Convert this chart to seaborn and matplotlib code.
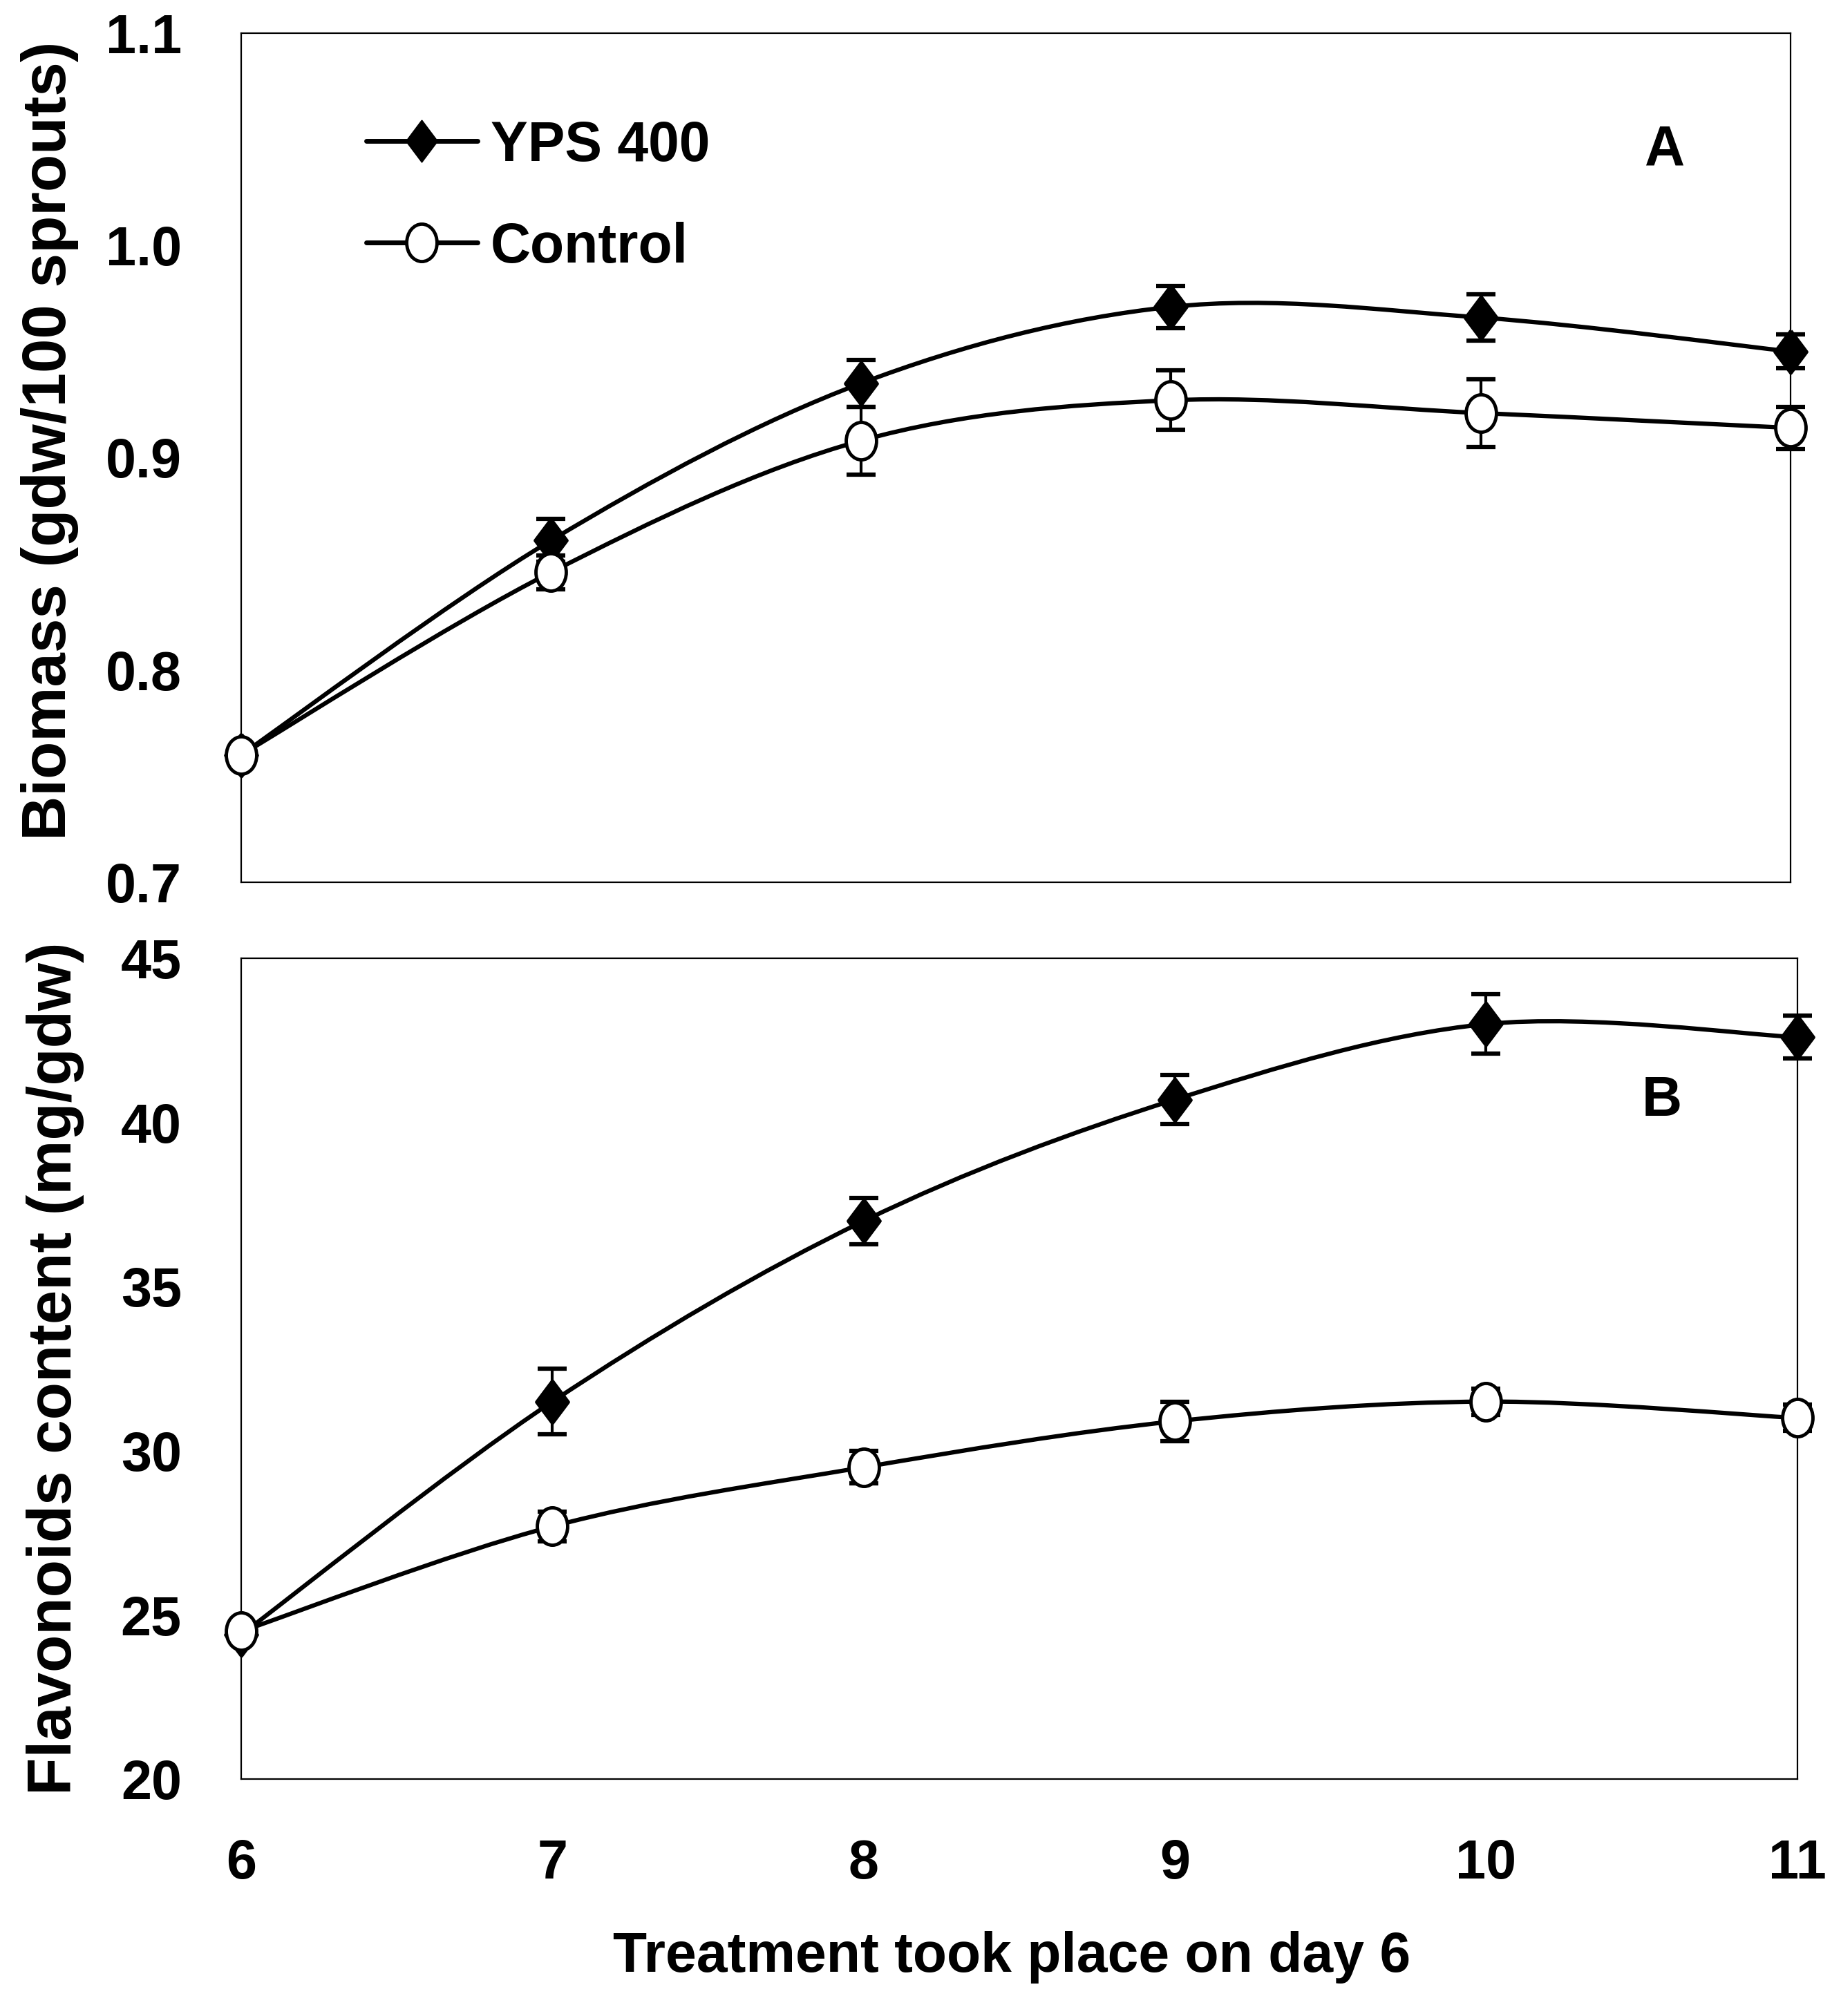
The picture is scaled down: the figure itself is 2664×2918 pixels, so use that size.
import numpy as np
import pandas as pd
import seaborn as sns
import matplotlib.pyplot as plt
from matplotlib.path import Path
from matplotlib.patches import PathPatch
from matplotlib.lines import Line2D

# values
days = [6, 7, 8, 9, 10, 11]

biomass_yps = [0.760, 0.861, 0.935, 0.971, 0.966, 0.950]
biomass_yps_err = [0.0, 0.010, 0.011, 0.010, 0.011, 0.008]
biomass_ctrl = [0.760, 0.846, 0.908, 0.927, 0.921, 0.914]
biomass_ctrl_err = [0.0, 0.008, 0.016, 0.014, 0.016, 0.010]

flav_yps = [24.4, 31.5, 37.0, 40.7, 43.0, 42.6]
flav_yps_err = [0.0, 1.0, 0.7, 0.75, 0.9, 0.65]
flav_ctrl = [24.5, 27.7, 29.5, 30.9, 31.5, 31.0]
flav_ctrl_err = [0.0, 0.45, 0.5, 0.6, 0.4, 0.4]

series_names = ["YPS 400", "Control"]

sns.set_style("white")
plt.rcParams["font.family"] = ["Liberation Sans", "DejaVu Sans"]
plt.rcParams["font.weight"] = "bold"
plt.rcParams["text.color"] = "black"
plt.rcParams["axes.labelcolor"] = "black"
plt.rcParams["xtick.color"] = "black"
plt.rcParams["ytick.color"] = "black"

# markers: the reference is slightly stretched vertically
diamond = [(0, 1), (0.75, 0), (0, -1), (-0.75, 0), (0, 1)]
circ = Path.unit_circle()
ellipse = Path(circ.vertices * np.array([0.81, 1.0]), circ.codes)


def smooth_path(x, y):
    # Excel-like smoothed line (Catmull-Rom bezier through the data points)
    pts = np.column_stack([x, y]).astype(float)
    n = len(pts)
    verts = [pts[0]]
    codes = [Path.MOVETO]
    for i in range(n - 1):
        p0 = pts[max(i - 1, 0)]
        p1 = pts[i]
        p2 = pts[i + 1]
        p3 = pts[min(i + 2, n - 1)]
        verts += [p1 + (p2 - p0) / 6, p2 - (p3 - p1) / 6, p2]
        codes += [Path.CURVE4] * 3
    return Path(verts, codes)


def draw_series(ax, y, err, marker, face, size):
    ax.add_patch(PathPatch(smooth_path(days, y), facecolor="none",
                           edgecolor="black", lw=4.5, zorder=2))
    ax.errorbar(days, y, yerr=err, fmt="none", ecolor="black", elinewidth=3,
                capsize=15, capthick=4.5, zorder=3, clip_on=False)
    sns.lineplot(x=days, y=y, ax=ax, color="black", linestyle="", marker=marker,
                 markersize=size, markerfacecolor=face, markeredgecolor="black",
                 markeredgewidth=3.5, errorbar=None, zorder=4, clip_on=False)


fig = plt.figure(figsize=(26.64, 29.18), dpi=100)
axA = fig.add_axes([0.1310, 0.5624, 0.8416, 0.4212])
axB = fig.add_axes([0.1310, 0.1175, 0.8453, 0.4071])

draw_series(axA, biomass_yps, biomass_yps_err, diamond, "black", 44)
draw_series(axA, biomass_ctrl, biomass_ctrl_err, ellipse, "white", 39)
draw_series(axB, flav_yps, flav_yps_err, diamond, "black", 44)
draw_series(axB, flav_ctrl, flav_ctrl_err, ellipse, "white", 39)

for ax in (axA, axB):
    ax.set_xlim(6, 11)
    ax.set_xticks(days)
    for s in ax.spines.values():
        s.set_visible(True)
        s.set_color("black")
        s.set_linewidth(1.6)
    ax.tick_params(axis="y", direction="in", length=20, width=1.5,
                   pad=62, labelsize=57)

axA.set_ylim(0.7, 1.1)
axA.set_yticks([0.7, 0.8, 0.9, 1.0, 1.1])
axA.set_yticklabels([f"{v:.1f}" for v in [0.7, 0.8, 0.9, 1.0, 1.1]])
axA.tick_params(axis="x", length=0, labelbottom=False)

axB.set_ylim(20, 45)
axB.set_yticks([20, 25, 30, 35, 40, 45])
axB.tick_params(axis="x", direction="in", length=20, width=1.5,
                pad=62, labelsize=57)

axA.set_ylabel("Biomass (gdw/100 sprouts)", fontsize=64, fontweight="bold")
axA.yaxis.set_label_coords(-0.105, 0.52)
axB.set_ylabel("Flavonoids content (mg/gdw)", fontsize=64, fontweight="bold")
axB.yaxis.set_label_coords(-0.101, 0.5)
axA.set_xlabel("")
axB.set_xlabel("Treatment took place on day 6", fontsize=58, fontweight="bold")
axB.xaxis.set_label_coords(0.495, -0.185)

axA.text(0.919, 0.862, "A", transform=axA.transAxes, fontsize=58,
         fontweight="bold", ha="center", va="center")
axB.text(0.913, 0.826, "B", transform=axB.transAxes, fontsize=58,
         fontweight="bold", ha="center", va="center")

handles = [
    Line2D([], [], color="black", lw=5, marker=diamond, markersize=44,
           markerfacecolor="black", markeredgecolor="black"),
    Line2D([], [], color="black", lw=5, marker=ellipse, markersize=39,
           markerfacecolor="white", markeredgecolor="black", markeredgewidth=3.5),
]
axA.legend(handles, series_names, loc="center left",
           bbox_to_anchor=(0.0807, 0.807), frameon=False, fontsize=58,
           handlelength=2.0, handletextpad=0.23, labelspacing=0.88,
           borderpad=0, borderaxespad=0)

fig.savefig("out.png", dpi=100)
